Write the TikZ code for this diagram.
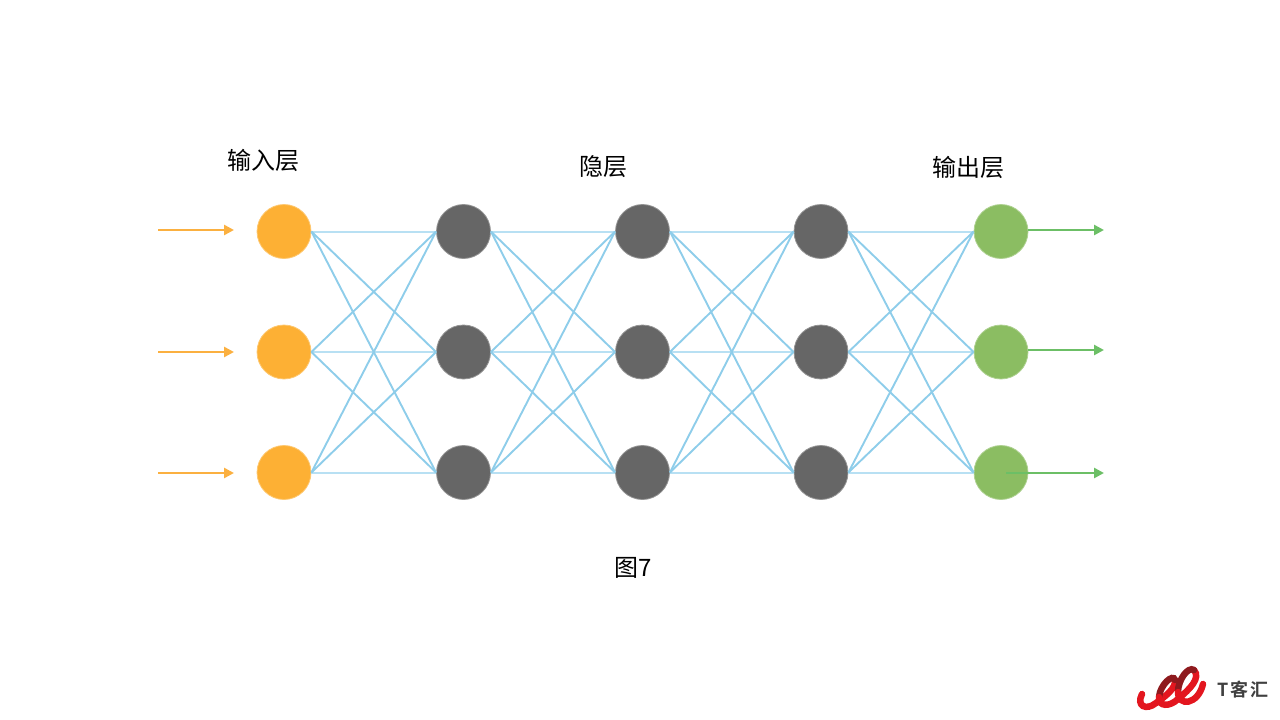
\documentclass[tikz,border=0pt]{standalone}
\usepackage{fontspec}
\setmainfont{Liberation Sans}
\newfontfamily\cjk{Noto Sans CJK SC}
\newfontfamily\cjkb[LetterSpace=9]{Noto Sans CJK SC Bold}
\definecolor{cOrange}{HTML}{FDB034}
\definecolor{cArrowO}{HTML}{FBB040}
\definecolor{cGrey}{HTML}{666666}
\definecolor{cGreen}{HTML}{8BBD62}
\definecolor{cArrowG}{HTML}{6CBF66}
\definecolor{cEdge}{HTML}{8ECDEA}
\definecolor{cEdgeH}{HTML}{B8E0F3}
\definecolor{cRed}{HTML}{E3161F}
\definecolor{cDark}{HTML}{8E1A1E}
\tikzset{
  neuron/.style={circle,minimum size=54pt,inner sep=0pt,draw=#1!70!white,line width=0.8pt,fill=#1},
  diag/.style={cEdge,line width=1.9pt},
  flat/.style={cEdgeH,line width=2pt},
  inarrow/.style={cArrowO,line width=2.7pt,-{Triangle[length=10pt,width=10pt]}},
  outarrow/.style={cArrowG,line width=2.7pt,-{Triangle[length=10pt,width=10pt]}},
  caption/.style={font=\cjk\fontsize{24}{24}\selectfont,text=black,inner sep=0pt},
  ribbon/.style={line cap=round,line width=6.5pt},
}
\usetikzlibrary{arrows.meta}
\begin{document}
\begin{tikzpicture}[x=1pt,y=-1pt]
\useasboundingbox (0,0) rectangle (1280,720);
% nodes
\foreach \l/\x/\c in {a/284/cOrange,b/463.5/cGrey,c/642.5/cGrey,d/821/cGrey,e/1001/cGreen}{
  \foreach \r/\y in {1/231.5,2/352,3/472.5}{
    \node[neuron=\c] (\l\r) at (\x,\y) {};
  }
}
% edges
\foreach \p/\q in {a/b,b/c,c/d,d/e}{
  \foreach \r in {1,2,3}{
    \draw[flat] (\p\r.east) -- (\q\r.west);
  }
  \foreach \r/\s in {1/2,1/3,2/1,2/3,3/1,3/2}{
    \draw[diag] (\p\r.east) -- (\q\s.west);
  }
}
% input arrows
\coordinate (i1s) at (158,230); \coordinate (i1t) at (234,230);
\coordinate (i2s) at (158,352); \coordinate (i2t) at (234,352);
\coordinate (i3s) at (158,473); \coordinate (i3t) at (234,473);
\foreach \r in {1,2,3}{ \draw[inarrow] (i\r s) -- (i\r t); }
% output arrows
\coordinate (o1t) at (1104,230);
\coordinate (o2t) at (1104,350);
\coordinate (o3t) at (1104,473);
\coordinate (o3s) at (1006,473);
\draw[outarrow] (e1.east) ++(0,-1.5) -- (o1t);
\draw[outarrow] (e2.east) ++(0,-2) -- (o2t);
\draw[outarrow] (o3s) -- (o3t);
% captions
\node[caption] (t1) at (263,160.5) {输入层};
\node[caption] (t2) at (603,167) {隐层};
\node[caption] (t3) at (968,167) {输出层};
\node[caption] (t4) at (633,568) {图7};
% logo
\draw[ribbon,cRed] (1142,694) .. controls (1136,706) and (1146,711) .. (1156,703)
   .. controls (1166,696) and (1176,688) .. (1175,680);
\draw[ribbon,cDark] (1175,680) .. controls (1173,673) and (1160,685) .. (1159,697);
\draw[ribbon,cRed] (1159,697) .. controls (1158,707) and (1170,707) .. (1178,699)
   .. controls (1190,689) and (1201,678) .. (1194,670);
\draw[ribbon,cDark] (1194,670) .. controls (1188,666) and (1178,680) .. (1178,692);
\draw[ribbon,cRed] (1178,692) .. controls (1178,707) and (1198,705) .. (1203,684);
\node[font=\cjkb\fontsize{18}{18}\selectfont,text=black!75,inner sep=0pt] (logo) at (1243,690) {T客汇};
\end{tikzpicture}
\end{document}
